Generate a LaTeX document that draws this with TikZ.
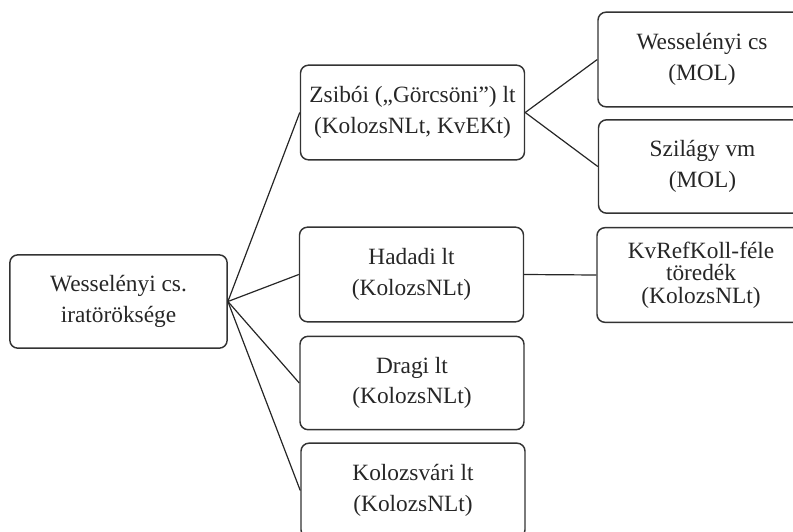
\documentclass[tikz,border=0pt]{standalone}
\usepackage{fontspec}
\setmainfont{Liberation Serif}
\usepackage{tikz}

\begin{document}
\begin{tikzpicture}[x=0.75pt,y=-0.75pt,
  box/.style={draw=black!80,line width=1.1pt,rounded corners=6pt,align=center,
    text=black!85,font=\fontsize{17.5}{23}\selectfont,inner sep=2pt,
    minimum width=168pt,minimum height=71pt},
  side/.style={box,minimum width=156pt},
  link/.style={draw=black!85,line width=0.9pt}]
\useasboundingbox (0,0) rectangle (793,532);

\node [box,minimum width=163pt,minimum height=70pt] (root) at (118.5,301.5) {Wesselényi cs.\\iratöröksége};

\node [box] (zsiboi) at (412.5,112.5) {Zsibói („Görcsöni”) lt\\(KolozsNLt, KvEKt)};
\node [box] (hadadi) at (411.5,274.5) {Hadadi lt\\(KolozsNLt)};
\node [box,minimum height=70pt] (dragi) at (412,383) {Dragi lt\\(KolozsNLt)};
\node [box] (kolozsvari) at (413,490.5) {Kolozsvári lt\\(KolozsNLt)};

\node [side] (wesscs) at (702,59.5) {Wesselényi cs\\(MOL)};
\node [side,minimum height=70pt] (szilagy) at (702.5,166.5) {Szilágy vm\\(MOL)};
\node [side,font=\fontsize{17.5}{17}\selectfont] (kvref) at (701,275) {KvRefKoll-féle\\töredék\\(KolozsNLt)};

\draw [link] (root.east) -- (zsiboi.west);
\draw [link] (root.east) -- (hadadi.west);
\draw [link] (root.east) -- (dragi.west);
\draw [link] (root.east) -- (kolozsvari.west);

\draw [link] (zsiboi.east) -- (wesscs.west);
\draw [link] (zsiboi.east) -- (szilagy.west);
\draw [link] (hadadi.east) -- (kvref.west);

\end{tikzpicture}
\end{document}
